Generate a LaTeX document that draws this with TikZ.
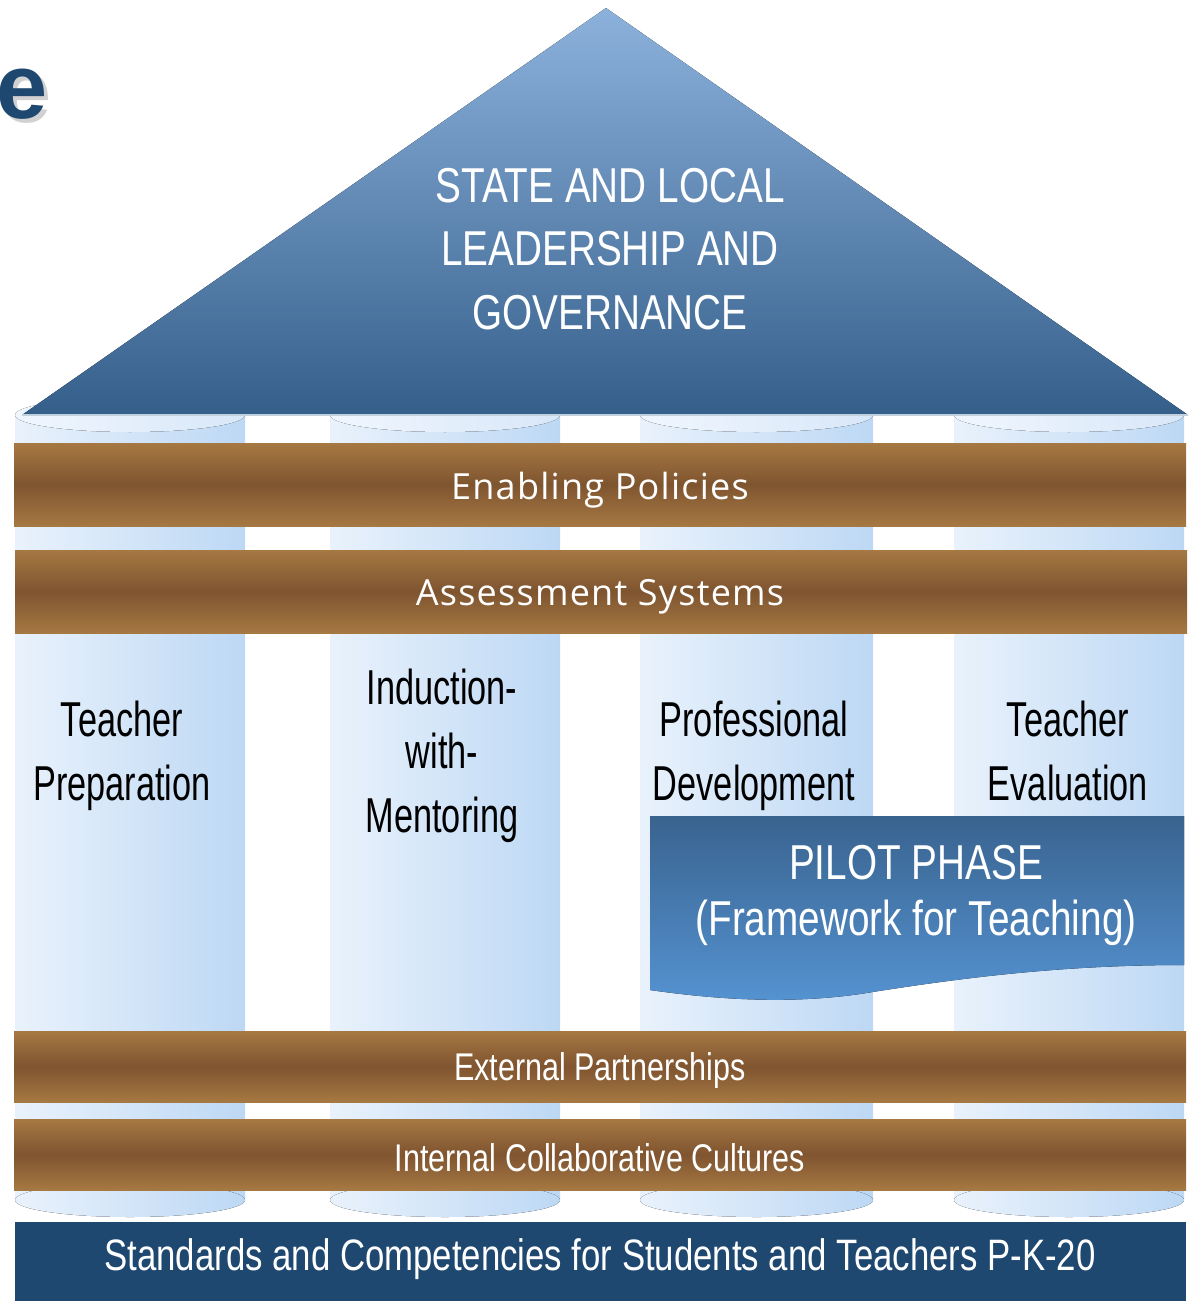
\documentclass[tikz,border=0pt]{standalone}
\usepackage{fontspec}
\setmainfont{Liberation Sans}
\newfontfamily\narrowfont[FakeStretch=0.79]{Liberation Sans}
\newfontfamily\labelfont[FakeStretch=0.70]{Liberation Sans}
\newfontfamily\bandfont[LetterSpace=3.5]{Open Sans}

\definecolor{roofTop}{HTML}{8CB2DC}
\definecolor{roofBot}{HTML}{355F8B}
\definecolor{colL}{HTML}{E9F2FC}
\definecolor{colR}{HTML}{BDD8F4}
\definecolor{capL}{HTML}{F0F6FE}
\definecolor{capR}{HTML}{D8E7F8}
\definecolor{woodEdge}{HTML}{A67842}
\definecolor{woodMid}{HTML}{7F5530}
\definecolor{baseBlue}{HTML}{1F4870}
\definecolor{pilotTop}{HTML}{39638F}
\definecolor{pilotBot}{HTML}{5593D2}

\tikzset{
  column/.style={left color=colL, right color=colR, draw=none},
  colcap/.style={left color=capL, right color=capR, draw=none},
  wood/.style={top color=woodEdge, bottom color=woodEdge, middle color=woodMid, draw=none},
  bandtext/.style={text=white, inner sep=0pt, font=\bandfont\fontsize{18}{22}\selectfont},
  narrowtext/.style={text=white, inner sep=0pt, align=center},
  pillar/.style={text=black, inner sep=0pt, align=center,
    font=\labelfont\fontsize{24.5}{32}\selectfont},
}

\newcommand{\pillarshape}[2]{%
  \fill[column] (#1,415) rectangle (#2,1200);
  \fill[column] ({(#1+#2)/2},1200) ellipse [x radius={(#2-#1)/2}, y radius=17];
  \fill[colcap] ({(#1+#2)/2},415) ellipse [x radius={(#2-#1)/2}, y radius=17];
}

\begin{document}
\begin{tikzpicture}[x=0.5pt,y=-0.5pt]
\useasboundingbox (0,0) rectangle (1190,1301);

% partial title letter with its drop shadow
\node[anchor=west, inner sep=0pt, text=black!40, opacity=0.45,
      font=\bfseries\fontsize{46}{50}\selectfont] (eshadow) at (0,98) {e};
\node[anchor=west, inner sep=0pt, text=baseBlue,
      font=\bfseries\fontsize{46}{50}\selectfont] (eletter) at (-4,94) {e};

% the four pillars
\pillarshape{15}{245}
\pillarshape{330}{560}
\pillarshape{640}{873}
\pillarshape{954}{1184}

% roof
\fill[top color=roofTop, bottom color=roofBot] (606,8) -- (1188,415) -- (22,415) -- cycle;
\draw[white!70!roofBot, line width=0.8pt] (22,415) -- (1188,415);
\node[narrowtext, font=\narrowfont\fontsize{24.5}{31.75}\selectfont] (roof) at (610,249)
  {STATE AND LOCAL\\LEADERSHIP AND\\GOVERNANCE};

% horizontal beams
\fill[wood] (14,443) rectangle (1186,526);
\node[bandtext] (enabling) at (600,490) {Enabling Policies};
\fill[wood] (15,550) rectangle (1187,633);
\node[bandtext] (assess) at (600,597) {Assessment Systems};

% pillar labels
\node[pillar] (prep) at (122,756) {Teacher\\Preparation};
\node[pillar] (induct) at (442,756) {Induction-\\with-\\Mentoring};
\node[pillar] (profdev) at (754,756) {Professional\\Development};
\node[pillar] (eval) at (1068,751) {Teacher\\Evaluation};

% pilot banner with wavy lower edge
\fill[top color=pilotTop, bottom color=pilotBot]
  (650,816) -- (1184,816) -- (1184,965)
  .. controls (1060,965) and (960,978) .. (860,994)
  .. controls (790,1004) and (720,1000) .. (650,990) -- cycle;
\node[narrowtext, font=\narrowfont\fontsize{24.5}{28}\selectfont] (pilot) at (916,895)
  {PILOT PHASE\\(Framework for Teaching)};

% lower beams
\fill[wood] (14,1031) rectangle (1186,1102);
\node[narrowtext, font=\narrowfont\fontsize{19.3}{22}\selectfont] (external) at (600,1071) {External Partnerships};
\fill[wood] (14,1119) rectangle (1186,1190);
\node[narrowtext, font=\narrowfont\fontsize{19.3}{22}\selectfont] (internal) at (600,1158) {Internal Collaborative Cultures};

% foundation
\fill[baseBlue] (15,1222) rectangle (1186,1301);
\node[narrowtext, font=\narrowfont\fontsize{22}{26}\selectfont] (standards) at (600,1259)
  {Standards and Competencies for Students and Teachers P-K-20};
\end{tikzpicture}
\end{document}
